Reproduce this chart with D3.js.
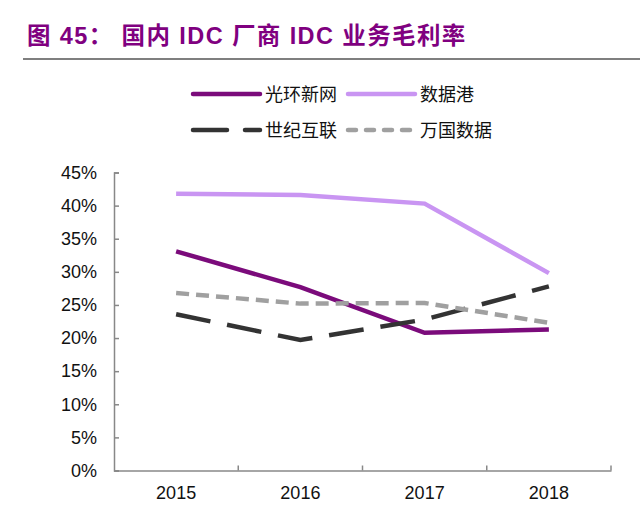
<!DOCTYPE html>
<html><head><meta charset="utf-8">
<script src="https://cdn.jsdelivr.net/npm/d3@7/dist/d3.min.js"></script>
<style>body{margin:0;background:#fff;}svg{display:block;}</style>
</head><body><svg id="c" width="640" height="523"></svg>
<script>
const years = ["2015","2016","2017","2018"];
const seriesNames = ["光环新网","数据港","世纪互联","万国数据"];
const guanghuan = [33.1, 27.7, 20.8, 21.3];
const shujugang = [41.8, 41.6, 40.3, 29.8];
const shiji = [23.6, 19.7, 22.8, 27.8];
const wanguo = [26.8, 25.2, 25.3, 22.3];
const yTicks = [0,5,10,15,20,25,30,35,40,45];

const svg = d3.select("#c");
const fontCJK = "'Noto Sans CJK SC', sans-serif";
const fontNum = "'Liberation Sans', Arial, sans-serif";

svg.append("text").attr("x",27).attr("y",44)
  .attr("font-family","'Liberation Sans', 'Noto Sans CJK SC', sans-serif").attr("font-weight","bold")
  .attr("font-size",23.5).attr("letter-spacing",1.4).attr("fill","#800080")
  .text("图 45： 国内 IDC 厂商 IDC 业务毛利率");
svg.append("line").attr("x1",23).attr("x2",640).attr("y1",59).attr("y2",59)
  .attr("stroke","#555").attr("stroke-width",1.5);

const x = d3.scaleBand().domain(years).range([114,611]);
const y = d3.scaleLinear().domain([0,45]).range([470.5,172.5]);

const styles = [
  {name:seriesNames[0], data:guanghuan, color:"#7B0B7B", dash:null},
  {name:seriesNames[1], data:shujugang, color:"#C995F2", dash:null},
  {name:seriesNames[2], data:shiji, color:"#333333", dash:"35,17"},
  {name:seriesNames[3], data:wanguo, color:"#A0A0A0", dash:"13,7"}
];

// axes
const yAxis = d3.axisLeft(y).tickValues(yTicks).tickSize(-5).tickPadding(17)
  .tickFormat(d=>d+"%");
const gy = svg.append("g").attr("transform","translate(114,0)").call(yAxis);
gy.select(".domain").attr("stroke","#888").attr("stroke-width",1.5);
gy.selectAll(".tick line").attr("stroke","#888").attr("stroke-width",1.5);
gy.selectAll(".tick text").attr("font-family",fontNum).attr("font-size",18).attr("fill","#111");

const xAxis = d3.axisBottom(x).tickSize(0).tickPadding(16);
const gx = svg.append("g").attr("transform","translate(0,470.5)").call(xAxis);
gx.select(".domain").attr("stroke","#888").attr("stroke-width",1.5);
gx.selectAll(".tick text").attr("font-family",fontNum).attr("font-size",18).attr("fill","#111");
// band boundary ticks
const bounds = years.map(d=>x(d)).slice(1).concat([x.range()[1]]);
gx.selectAll(".bt").data(bounds).enter().append("line")
  .attr("x1",d=>d).attr("x2",d=>d).attr("y1",0).attr("y2",-5)
  .attr("stroke","#888").attr("stroke-width",1.5);

const line = d3.line().x((d,i)=>x(years[i])+x.bandwidth()/2).y(d=>y(d));
styles.forEach(s=>{
  svg.append("path").datum(s.data).attr("d",line).attr("fill","none")
    .attr("stroke",s.color).attr("stroke-width",4.5)
    .attr("stroke-dasharray",s.dash);
});

// legend
const leg = [
  {s:styles[0], x:193, y:94},
  {s:styles[1], x:348, y:94},
  {s:styles[2], x:193, y:130},
  {s:styles[3], x:348, y:130}
];
leg.forEach(l=>{
  svg.append("line").attr("x1",l.x).attr("x2",l.x+67).attr("y1",l.y).attr("y2",l.y)
    .attr("stroke",l.s.color).attr("stroke-width",4.5)
    .attr("stroke-linecap","round")
    .attr("stroke-dasharray", l.s.dash===null?null:(l.s.dash==="35,17"?"34,18":"8,10"));
  svg.append("text").attr("x",l.x+72).attr("y",l.y+6.5)
    .attr("font-family",fontCJK).attr("font-size",18).attr("fill","#111")
    .text(l.s.name);
});
</script></body></html>
